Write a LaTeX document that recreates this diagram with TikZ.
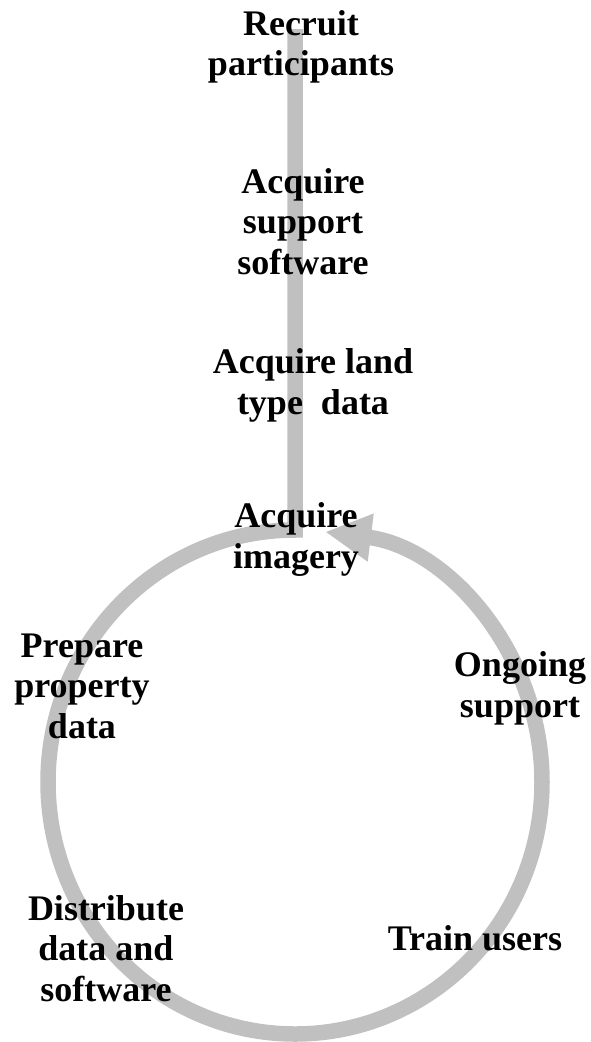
\documentclass[tikz,border=0pt]{standalone}
\usepackage{fontspec}
\setmainfont{Liberation Serif}
\usetikzlibrary{arrows.meta}
\definecolor{loopgray}{HTML}{C0C0C0}
\begin{document}
\begin{tikzpicture}[x=1pt,y=-1pt,
  flow/.style={draw=loopgray,line width=15.5pt,line join=miter},
  lbl/.style={anchor=base,align=center,inner sep=0pt,
    font=\fontsize{36}{40.5}\selectfont\bfseries}]
\useasboundingbox (0,0) rectangle (590,1042);
\coordinate (start) at (295,29);
\coordinate (join) at (295,530);
\draw[flow,-{Triangle[length=46pt,width=45pt]}] (start) -- (join)
  arc[start angle=270,end angle=-83,x radius=247,y radius=252];
% base anchor = baseline of the last line
\node[lbl] (recruit) at (301,75.5) {Recruit\\participants};
\node[lbl] (support) at (303,274) {Acquire\\support\\software};
\node[lbl] (land) at (313,414) {Acquire land\\type\ \ data};
\node[lbl] (imagery) at (296,568) {Acquire\\imagery};
\node[lbl] (prepare) at (82,738) {Prepare\\property\\data};
\node[lbl] (ongoing) at (520,717) {Ongoing\\support};
\node[lbl] (distribute) at (106,1001) {Distribute\\data and\\software};
\node[lbl] (train) at (475,950) {Train users};
\end{tikzpicture}
\end{document}
